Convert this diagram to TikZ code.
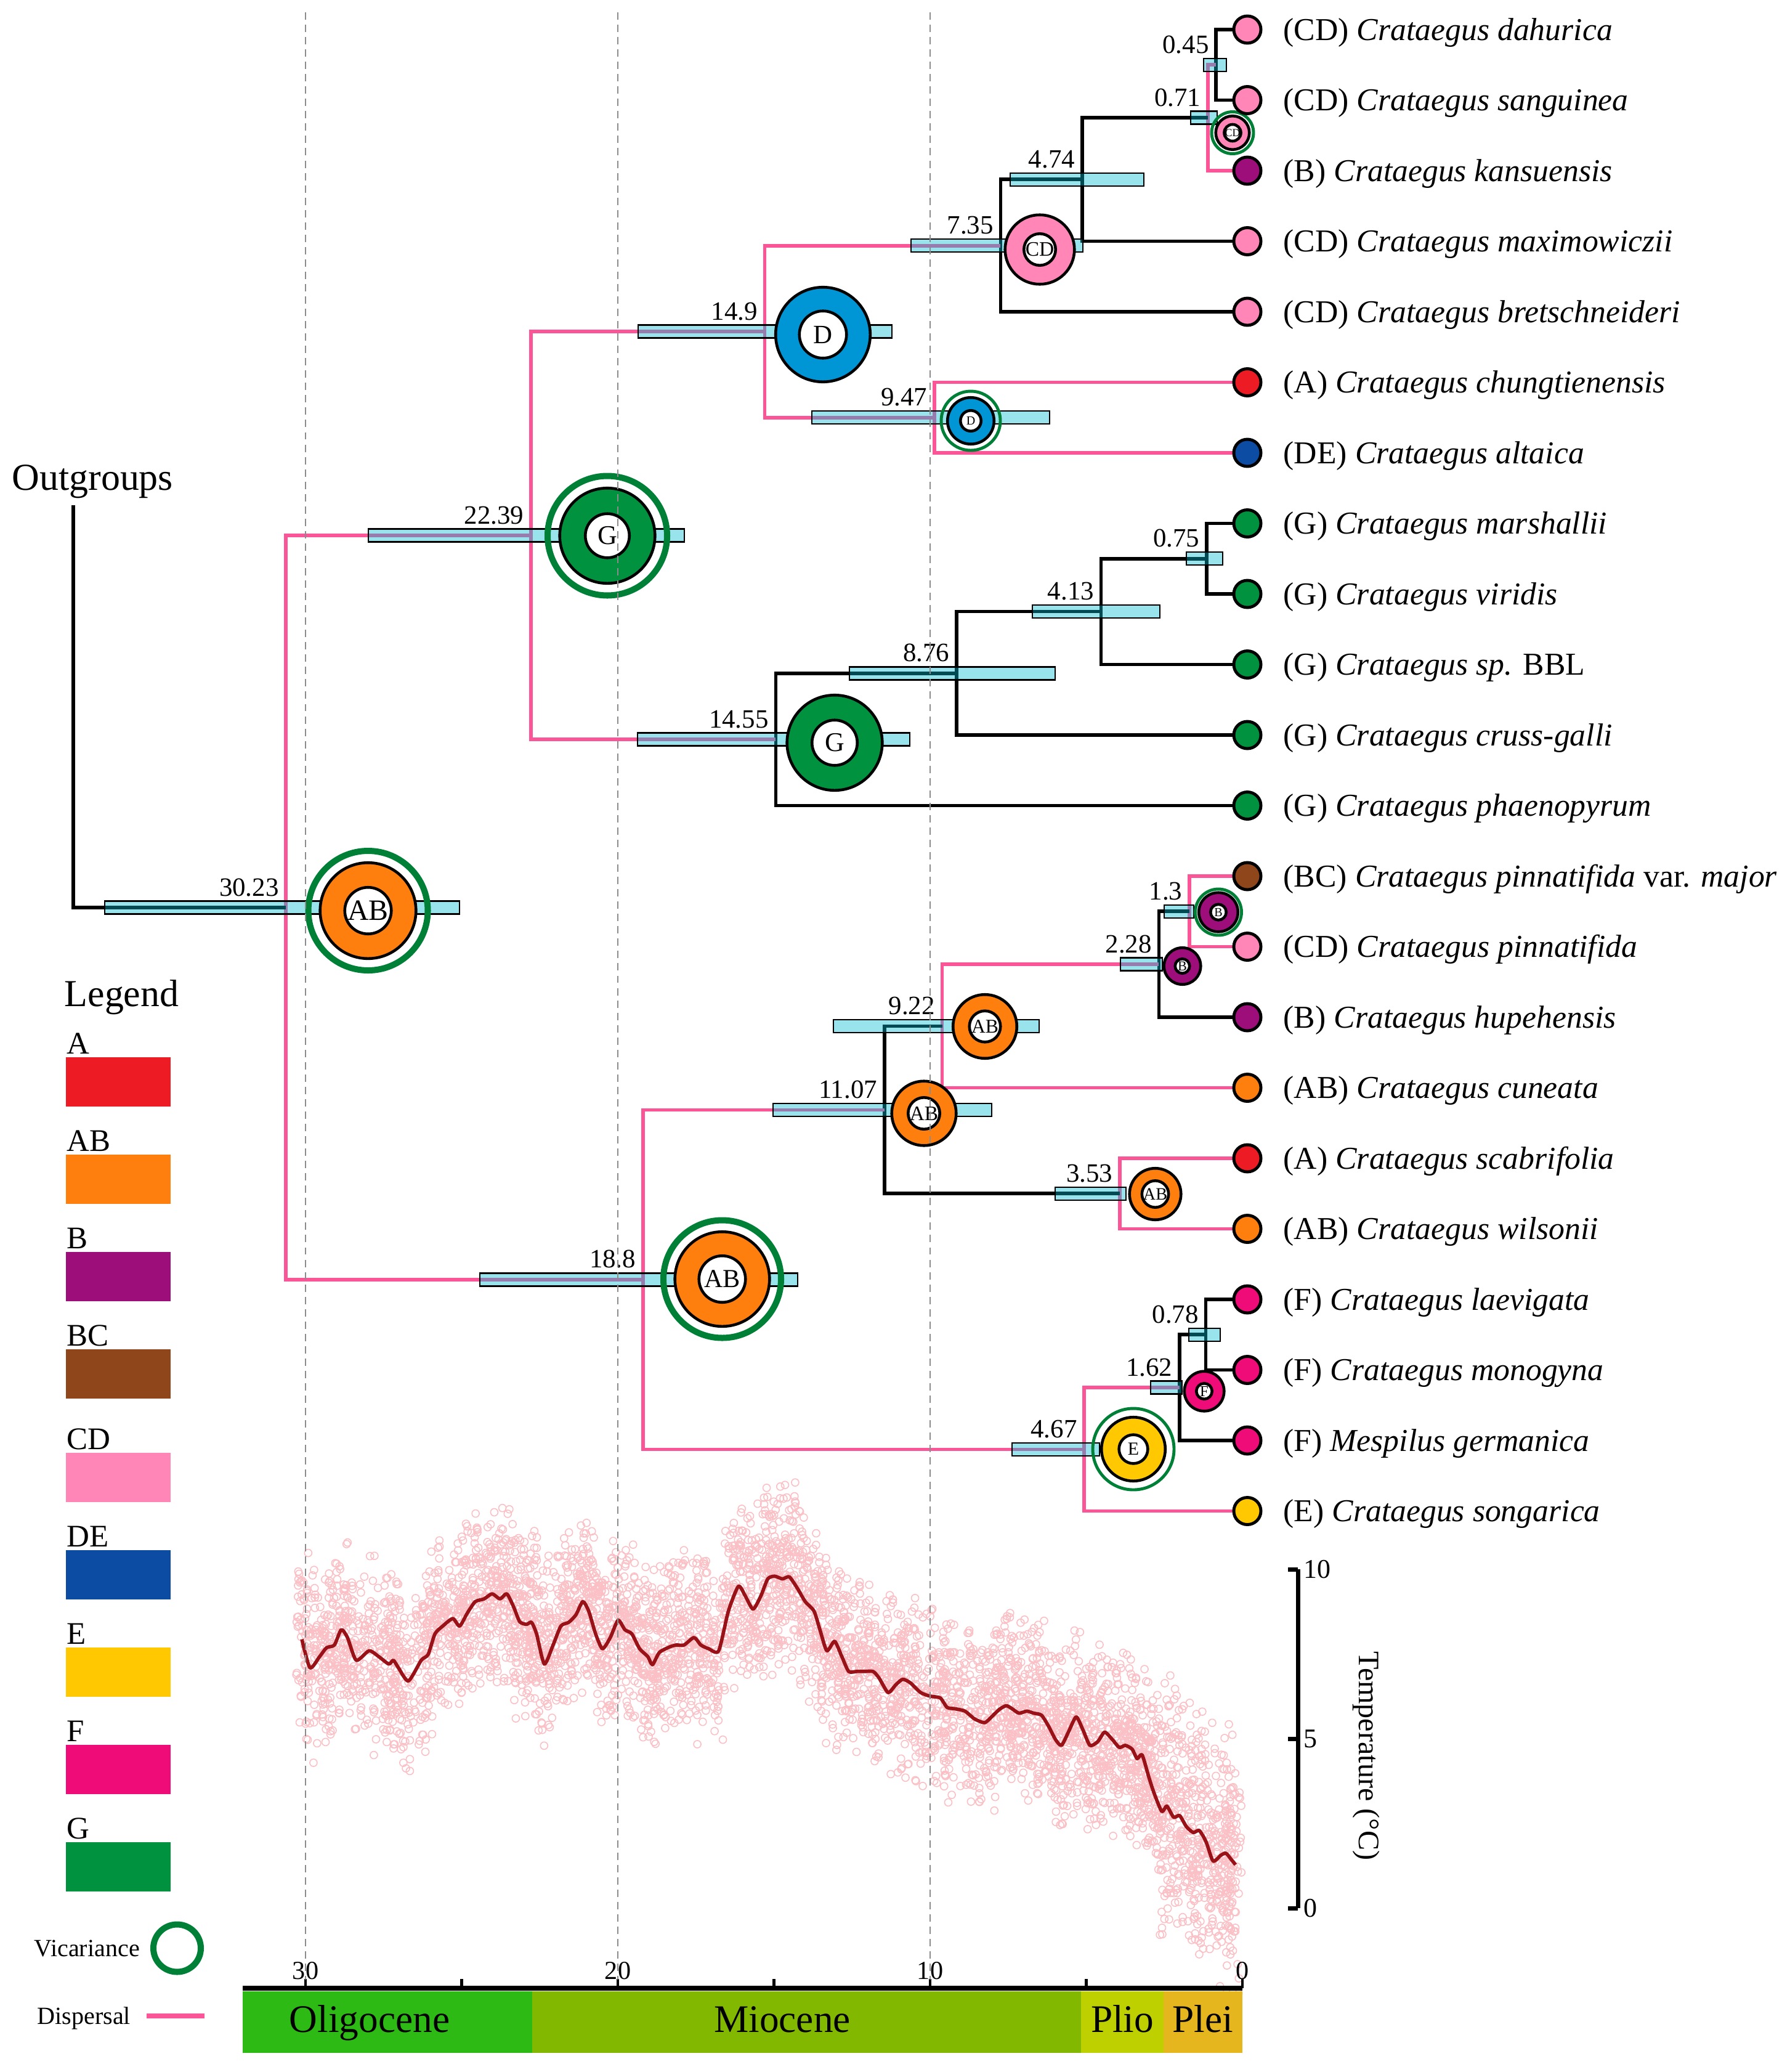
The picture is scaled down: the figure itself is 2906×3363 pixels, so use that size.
\documentclass[tikz,border=0pt]{standalone}
\usepackage{fontspec}
\setmainfont{Liberation Serif}
\usepackage{tikz}
\usetikzlibrary{arrows,shapes}
\newcommand{\fsz}[1]{\fontsize{#1}{#1}\selectfont}

\begin{document}
\begin{tikzpicture}[x=0.01cm,y=0.01cm]

		\definecolor{cA}{RGB}{237,27,36}
		\definecolor{cAB}{RGB}{255,127,14}
		\definecolor{cB}{RGB}{158,14,122}
		\definecolor{cBC}{RGB}{142,70,26}
		\definecolor{cCD}{RGB}{255,134,182}
		\definecolor{cD}{RGB}{0,150,214}
		\definecolor{cDE}{RGB}{13,76,163}
		\definecolor{cE}{RGB}{255,200,0}
		\definecolor{cF}{RGB}{240,12,120}
		\definecolor{cG}{RGB}{0,146,63}
		\definecolor{dispc}{RGB}{250,85,150}
		\definecolor{vic}{RGB}{0,128,55}
		\definecolor{hpdc}{RGB}{0,186,211}
		\definecolor{tempc}{RGB}{152,18,24}
		\definecolor{scat}{RGB}{250,192,197}
		\definecolor{oligo}{RGB}{46,186,20}
		\definecolor{mio}{RGB}{130,185,0}
		\definecolor{plio}{RGB}{190,208,0}
		\definecolor{plei}{RGB}{230,182,30}

		\tikzstyle{branch} = [draw, line width=1.6pt]
		\tikzstyle{disp} = [draw=dispc, line width=1.6pt]
		\tikzstyle{hpd} = [draw, line width=0.7pt, fill=hpdc, fill opacity=0.4]
		\tikzset{leaf/.style = {shape=circle, draw, line width=1.4pt, minimum size=0.44cm, inner sep=0pt}}
		\tikzset{anc/.style = {shape=circle, draw, line width=1.3pt, inner sep=0pt}}
		\tikzset{ancin/.style = {shape=circle, draw, line width=1.3pt, fill=white, inner sep=0pt}}
		\tikzset{vicbig/.style = {draw=vic, line width=2.85pt}}
		\tikzset{vicsmall/.style = {draw=vic, line width=1.4pt}}
		\tikzset{tiplab/.style = {anchor=base west, inner sep=0pt, font=\fsz{14.7}}}
		\tikzset{agelab/.style = {anchor=base east, inner sep=0pt, font=\fsz{12.2}}}
		\tikzset{axlab/.style = {inner sep=0pt, font=\fsz{12}}}
		\tikzset{leglab/.style = {anchor=base west, inner sep=0pt}}
		\tikzset{epoch/.style = {anchor=base, inner sep=0pt, font=\fsz{18}}}
		\tikzset{ageline/.style = {draw=black!45, line width=0.6pt, dash pattern=on 3.4pt off 2.3pt}}
		\tikzset{tdot/.style = {draw=scat, line width=0.45pt}}
		\tikzset{tcurve/.style = {draw=tempc, line width=1.6pt, line join=round}}

		\useasboundingbox (0,0) rectangle (2906,-3363);

		\pgfmathsetseed{11}
		\foreach \ag/\tc in {30.10/7.93, 29.84/7.09, 29.53/7.42, 29.31/7.68, 29.06/7.76, 28.84/8.21, 28.64/7.98, 28.36/7.31, 27.95/7.59, 27.64/7.42, 27.32/7.20, 27.17/7.31, 27.01/7.09, 26.69/6.70, 26.28/7.31, 26.06/7.48, 25.84/8.09, 25.59/8.32, 25.27/8.54, 25.05/8.32, 24.80/8.71, 24.55/9.04, 24.27/9.12, 24.01/9.27, 23.76/9.12, 23.54/9.27, 23.32/8.88, 23.13/8.45, 22.91/8.37, 22.75/8.43, 22.59/8.09, 22.34/7.20, 22.06/7.76, 21.81/8.32, 21.56/8.43, 21.33/8.65, 21.11/9.04, 20.92/8.76, 20.70/8.09, 20.48/7.65, 20.23/7.98, 19.98/8.49, 19.76/8.21, 19.54/8.09, 19.29/7.65, 19.03/7.42, 18.88/7.18, 18.66/7.54, 18.34/7.70, 18.12/7.76, 17.87/7.76, 17.55/7.98, 17.33/7.76, 17.08/7.65, 16.76/7.59, 16.45/8.76, 16.13/9.49, 15.91/9.21, 15.66/8.82, 15.41/9.21, 15.19/9.71, 14.97/9.79, 14.72/9.71, 14.50/9.77, 14.24/9.43, 13.99/9.04, 13.71/8.76, 13.52/8.21, 13.30/7.59, 13.05/7.87, 12.82/7.42, 12.60/6.98, 12.35/6.98, 12.10/6.98, 11.82/6.98, 11.63/6.79, 11.34/6.36, 11.09/6.59, 10.87/6.75, 10.62/6.64, 10.30/6.36, 9.99/6.25, 9.67/6.20, 9.45/5.92, 9.20/5.88, 8.88/5.81, 8.57/5.58, 8.25/5.47, 8.03/5.64, 7.78/5.86, 7.56/5.97, 7.37/5.88, 7.15/5.75, 6.90/5.81, 6.68/5.75, 6.43/5.69, 6.20/5.36, 5.98/4.97, 5.79/4.80, 5.57/5.19, 5.32/5.64, 5.10/5.25, 4.88/4.80, 4.63/4.91, 4.41/5.19, 4.16/4.97, 3.94/4.74, 3.75/4.80, 3.53/4.69, 3.37/4.41, 3.21/4.52, 2.99/3.85, 2.83/3.40, 2.58/2.85, 2.42/3.01, 2.20/2.68, 2.01/2.73, 1.79/2.40, 1.57/2.23, 1.38/2.29, 1.16/1.95, 0.94/1.39, 0.69/1.56, 0.53/1.62, 0.37/1.45, 0.22/1.28} {
			\foreach \k in {1,...,45} {
				\pgfmathsetmacro{\dx}{0.2*rand}
				\pgfmathsetmacro{\dy}{(\ag<2.6 ? 2.1 : 1.5)*(rand+rand)}
				\draw[tdot] ({2017-50.7*(\ag+\dx)},{-3097+55*(\tc+\dy)}) circle (6);
			}
		}

		\begin{scope}[shift={(2017,-3097)}, x=-0.507cm, y=0.55cm]
		\draw[tcurve] plot[smooth, tension=0.4] coordinates {(30.10,7.93) (29.84,7.09) (29.53,7.42) (29.31,7.68) (29.06,7.76) (28.84,8.21) (28.64,7.98) (28.36,7.31) (27.95,7.59) (27.64,7.42) (27.32,7.20) (27.17,7.31) (27.01,7.09) (26.69,6.70) (26.28,7.31) (26.06,7.48) (25.84,8.09) (25.59,8.32) (25.27,8.54) (25.05,8.32) (24.80,8.71) (24.55,9.04) (24.27,9.12) (24.01,9.27) (23.76,9.12) (23.54,9.27) (23.32,8.88) (23.13,8.45) (22.91,8.37) (22.75,8.43) (22.59,8.09) (22.34,7.20) (22.06,7.76) (21.81,8.32) (21.56,8.43) (21.33,8.65) (21.11,9.04) (20.92,8.76) (20.70,8.09) (20.48,7.65) (20.23,7.98) (19.98,8.49) (19.76,8.21) (19.54,8.09) (19.29,7.65) (19.03,7.42) (18.88,7.18) (18.66,7.54) (18.34,7.70) (18.12,7.76) (17.87,7.76) (17.55,7.98) (17.33,7.76) (17.08,7.65) (16.76,7.59) (16.45,8.76) (16.13,9.49) (15.91,9.21) (15.66,8.82) (15.41,9.21) (15.19,9.71) (14.97,9.79) (14.72,9.71) (14.50,9.77) (14.24,9.43) (13.99,9.04) (13.71,8.76) (13.52,8.21) (13.30,7.59) (13.05,7.87) (12.82,7.42) (12.60,6.98) (12.35,6.98) (12.10,6.98) (11.82,6.98) (11.63,6.79) (11.34,6.36) (11.09,6.59) (10.87,6.75) (10.62,6.64) (10.30,6.36) (9.99,6.25) (9.67,6.20) (9.45,5.92) (9.20,5.88) (8.88,5.81) (8.57,5.58) (8.25,5.47) (8.03,5.64) (7.78,5.86) (7.56,5.97) (7.37,5.88) (7.15,5.75) (6.90,5.81) (6.68,5.75) (6.43,5.69) (6.20,5.36) (5.98,4.97) (5.79,4.80) (5.57,5.19) (5.32,5.64) (5.10,5.25) (4.88,4.80) (4.63,4.91) (4.41,5.19) (4.16,4.97) (3.94,4.74) (3.75,4.80) (3.53,4.69) (3.37,4.41) (3.21,4.52) (2.99,3.85) (2.83,3.40) (2.58,2.85) (2.42,3.01) (2.20,2.68) (2.01,2.73) (1.79,2.40) (1.57,2.23) (1.38,2.29) (1.16,1.95) (0.94,1.39) (0.69,1.56) (0.53,1.62) (0.37,1.45) (0.22,1.28)};
		\end{scope}

		\node[anchor=base west, inner sep=0pt, font=\fsz{17.6}] (og) at (19,-795) {Outgroups};
		\coordinate (ogstem) at (119,-820);

		\coordinate (n045) at (1974.2,-105.25);
		\coordinate (n071) at (1961.0,-191.1);
		\coordinate (n474) at (1756.7,-291.3);
		\coordinate (n735) at (1624.4,-398.7);
		\coordinate (n947) at (1516.9,-677.75);
		\coordinate (n149) at (1241.6,-538.2);
		\coordinate (n075) at (1959.0,-906.75);
		\coordinate (n413) at (1787.6,-992.6);
		\coordinate (n876) at (1552.9,-1092.8);
		\coordinate (n1455) at (1259.3,-1200.2);
		\coordinate (n2239) at (861.8,-869.2);
		\coordinate (n13) at (1931.1,-1479.25);
		\coordinate (n228) at (1881.4,-1565.1);
		\coordinate (n922) at (1529.5,-1665.3);
		\coordinate (n353) at (1818.0,-1937.25);
		\coordinate (n1107) at (1435.7,-1801.3);
		\coordinate (n078) at (1957.5,-2166.25);
		\coordinate (n162) at (1914.9,-2252.1);
		\coordinate (n467) at (1760.2,-2352.3);
		\coordinate (n188) at (1043.8,-2076.8);
		\coordinate (n3023) at (464.3,-1473);

		\foreach \i in {0,...,21} {
			\coordinate (t\i) at (2025,{-48-114.5*\i});
		}

		\draw[branch] (t0) -- ++(-22,0) -| (n045) |- ([xshift=-0.22cm]t1);
		\draw[disp] (n045) -| (n071) |- ([xshift=-0.22cm]t2);
		\draw[branch] (n071) -| (n474) |- ([xshift=-0.22cm]t3);
		\draw[branch] (n474) -| (n735) |- ([xshift=-0.22cm]t4);
		\draw[disp] ([xshift=-0.22cm]t5) -| (n947) |- ([xshift=-0.22cm]t6);
		\draw[disp] (n735) -| (n149) |- (n947);
		\draw[branch] ([xshift=-0.22cm]t7) -| (n075) |- ([xshift=-0.22cm]t8);
		\draw[branch] (n075) -| (n413) |- ([xshift=-0.22cm]t9);
		\draw[branch] (n413) -| (n876) |- ([xshift=-0.22cm]t10);
		\draw[branch] (n876) -| (n1455) |- ([xshift=-0.22cm]t11);
		\draw[disp] (n149) -| (n2239) |- (n1455);
		\draw[disp] ([xshift=-0.22cm]t12) -| (n13) |- ([xshift=-0.22cm]t13);
		\draw[branch] (n13) -| (n228) |- ([xshift=-0.22cm]t14);
		\draw[disp] (n228) -| (n922) |- ([xshift=-0.22cm]t15);
		\draw[disp] ([xshift=-0.22cm]t16) -| (n353) |- ([xshift=-0.22cm]t17);
		\draw[branch] (n922) -| (n1107) |- (n353);
		\draw[branch] ([xshift=-0.22cm]t18) -| (n078) |- ([xshift=-0.22cm]t19);
		\draw[branch] (n078) -| (n162) |- ([xshift=-0.22cm]t20);
		\draw[disp] (n162) -| (n467) |- ([xshift=-0.22cm]t21);
		\draw[disp] (n1107) -| (n188) |- (n467);
		\draw[disp] (n2239) -| (n3023) |- (n188);
		\draw[branch] (ogstem) |- (n3023);

		\foreach \n/\lo/\hi in {n3023/170/746, n2239/598/1111, n149/1036/1448, n1455/1035/1477, n188/779/1295, n735/1479/1758, n947/1318/1704, n474/1640/1857, n876/1379/1713, n413/1676/1883, n071/1933/1976, n045/1954/1991, n075/1926/1985, n1107/1255/1610, n922/1353/1687, n353/1713/1828, n228/1819/1887, n13/1890/1938, n467/1643/1785, n162/1868/1919, n078/1930/1981} {
			\draw[hpd] (\n -| \lo,0) ++(0,-10.5) rectangle ++(\hi-\lo,21);
		}

		\node[anc, fill=cAB, minimum size=1.555cm] (a3023) at (597.5,-1478) {};
		\node[ancin, minimum size=0.755cm, font=\fsz{13.6}] (b3023) at (a3023) {AB};
		\node[anc, fill=cG, minimum size=1.545cm] (a2239) at (986,-869.5) {};
		\node[ancin, minimum size=0.715cm, font=\fsz{12.5}] (b2239) at (a2239) {G};
		\node[anc, fill=cD, minimum size=1.535cm] (a149) at (1336,-543) {};
		\node[ancin, minimum size=0.765cm, font=\fsz{12.2}] (b149) at (a149) {D};
		\node[anc, fill=cG, minimum size=1.545cm] (a1455) at (1355,-1205.5) {};
		\node[ancin, minimum size=0.735cm, font=\fsz{12.5}] (b1455) at (a1455) {G};
		\node[anc, fill=cAB, minimum size=1.535cm] (a188) at (1172.5,-2076) {};
		\node[ancin, minimum size=0.755cm, font=\fsz{12}] (b188) at (a188) {AB};
		\node[anc, fill=cCD, minimum size=1.125cm] (a735) at (1688,-405) {};
		\node[ancin, minimum size=0.475cm, font=\fsz{9.5}] (b735) at (a735) {CD};
		\node[anc, fill=cD, minimum size=0.755cm] (a947) at (1576,-683) {};
		\node[ancin, minimum size=0.335cm, font=\fsz{5.7}] (b947) at (a947) {D};
		\node[anc, fill=cAB, minimum size=1.045cm] (a1107) at (1500,-1807) {};
		\node[ancin, minimum size=0.495cm, font=\fsz{9.5}] (b1107) at (a1107) {AB};
		\node[anc, fill=cAB, minimum size=1.035cm] (a922) at (1599,-1666) {};
		\node[ancin, minimum size=0.505cm, font=\fsz{9}] (b922) at (a922) {AB};
		\node[anc, fill=cAB, minimum size=0.835cm] (a353) at (1875.5,-1938) {};
		\node[ancin, minimum size=0.395cm, font=\fsz{8}] (b353) at (a353) {AB};
		\node[anc, fill=cB, minimum size=0.595cm] (a228) at (1919.5,-1568) {};
		\node[ancin, minimum size=0.235cm, font=\fsz{6.3}] (b228) at (a228) {B};
		\node[anc, fill=cB, minimum size=0.635cm] (a13) at (1978,-1480.5) {};
		\node[ancin, minimum size=0.255cm, font=\fsz{5.7}] (b13) at (a13) {B};
		\node[anc, fill=cE, minimum size=1.035cm] (a467) at (1840,-2352) {};
		\node[ancin, minimum size=0.467cm, font=\fsz{8.5}] (b467) at (a467) {E};
		\node[anc, fill=cF, minimum size=0.645cm] (a162) at (1955,-2258) {};
		\node[ancin, minimum size=0.255cm, font=\fsz{7}] (b162) at (a162) {F};
		\node[anc, fill=cCD, minimum size=0.545cm] (a071) at (2001,-215.5) {};
		\node[ancin, minimum size=0.245cm, font=\fsz{5}] (b071) at (a071) {CD};

		\draw[vicbig] (a3023) circle (97);
		\draw[vicbig] (a2239) circle (97);
		\draw[vicbig] (a188) circle (95.5);
		\draw[vicsmall] (a947) circle (48);
		\draw[vicsmall] (a071) circle (34);
		\draw[vicsmall] (a13) circle (37.5);
		\draw[vicsmall] (a467) circle (66);

		\foreach \n/\a in {n3023/30.23, n2239/22.39, n149/14.9, n1455/14.55, n188/18.8, n735/7.35, n947/9.47, n474/4.74, n876/8.76, n413/4.13, n071/0.71, n045/0.45, n075/0.75, n1107/11.07, n922/9.22, n353/3.53, n228/2.28, n13/1.3, n467/4.67, n162/1.62, n078/0.78} {
			\node[agelab] (l\n) at ([xshift=-0.11cm,yshift=0.19cm]\n) {\a};
		}

		\foreach \i/\col/\lab in {0/cCD/{(CD) \textit{Crataegus dahurica}}, 1/cCD/{(CD) \textit{Crataegus sanguinea}}, 2/cB/{(B) \textit{Crataegus kansuensis}}, 3/cCD/{(CD) \textit{Crataegus maximowiczii}}, 4/cCD/{(CD) \textit{Crataegus bretschneideri}}, 5/cA/{(A) \textit{Crataegus chungtienensis}}, 6/cDE/{(DE) \textit{Crataegus altaica}}, 7/cG/{(G) \textit{Crataegus marshallii}}, 8/cG/{(G) \textit{Crataegus viridis}}, 9/cG/{(G) \textit{Crataegus sp.} BBL}, 10/cG/{(G) \textit{Crataegus cruss-galli}}, 11/cG/{(G) \textit{Crataegus phaenopyrum}}, 12/cBC/{(BC) \textit{Crataegus pinnatifida} var. \textit{major}}, 13/cCD/{(CD) \textit{Crataegus pinnatifida}}, 14/cB/{(B) \textit{Crataegus hupehensis}}, 15/cAB/{(AB) \textit{Crataegus cuneata}}, 16/cA/{(A) \textit{Crataegus scabrifolia}}, 17/cAB/{(AB) \textit{Crataegus wilsonii}}, 18/cF/{(F) \textit{Crataegus laevigata}}, 19/cF/{(F) \textit{Crataegus monogyna}}, 20/cF/{(F) \textit{Mespilus germanica}}, 21/cE/{(E) \textit{Crataegus songarica}}} {
			\node[leaf, fill=\col] (leaf\i) at (t\i) {};
			\node[tiplab] (name\i) at ([xshift=0.58cm,yshift=-0.17cm]t\i) {\lab};
		}

		\node[leglab, font=\fsz{17.6}] (legtitle) at (104,-1633) {Legend};
		\foreach \lab/\col/\yt in {A/cA/1716, AB/cAB/1874, B/cB/2032, BC/cBC/2190, CD/cCD/2358, DE/cDE/2516, E/cE/2674, F/cF/2832, G/cG/2990} {
			\fill[\col] (107,-\yt) rectangle (277,-\yt-80);
			\node[leglab, font=\fsz{14.5}] (leg\lab) at (108,-\yt+6) {\lab};
		}
		\node[leglab, font=\fsz{11.4}] (vicleg) at (55,-3175) {Vicariance};
		\draw[vicbig] (287.5,-3162) circle (38.5);
		\node[leglab, font=\fsz{11.4}] (displeg) at (60,-3285) {Dispersal};
		\coordinate (dispa) at (238,-3272);
		\coordinate (dispb) at (332,-3272);
		\draw[dispc, line width=2.3pt] (dispa) -- (dispb);

		\fill[oligo] (394,-3232) rectangle (864,-3332);
		\fill[mio] (864,-3232) rectangle (1755,-3332);
		\fill[plio] (1755,-3232) rectangle (1889,-3332);
		\fill[plei] (1889,-3232) rectangle (2017,-3332);
		\node[epoch] (eoli) at (600,-3298) {Oligocene};
		\node[epoch] (emio) at (1270,-3298) {Miocene};
		\node[epoch] (eplio) at (1822,-3298) {Plio};
		\node[epoch] (eplei) at (1953,-3298) {Plei};
		\draw[line width=2.3pt] (394,-3227) -- (2017,-3227);
		\foreach \a in {0,5,...,30} {
			\draw[line width=1.3pt] ({2017-50.7*\a},-3227) -- ++(0,15);
		}
		\foreach \a in {0,10,20,30} {
			\node[axlab, anchor=base] (ax\a) at ({2017-50.7*\a},-3212) {\a};
		}

		\draw[line width=2pt] (2107,-2547) -- (2107,-3097);
		\foreach \v/\yt in {10/2547, 5/2822, 0/3097} {
			\draw[line width=2pt] (2091,-\yt) -- (2107,-\yt);
			\node[axlab, anchor=west, font=\fsz{12.5}] (tk\v) at (2116,-\yt) {\v};
		}
		\node[rotate=-90, inner sep=0pt, font=\fsz{13.7}] (tlab) at (2218,-2850) {Temperature (°C)};

		\foreach \x in {496,1003,1510} {
			\draw[ageline] (\x,-20) -- (\x,-3213);
		}
\end{tikzpicture}
\end{document}
